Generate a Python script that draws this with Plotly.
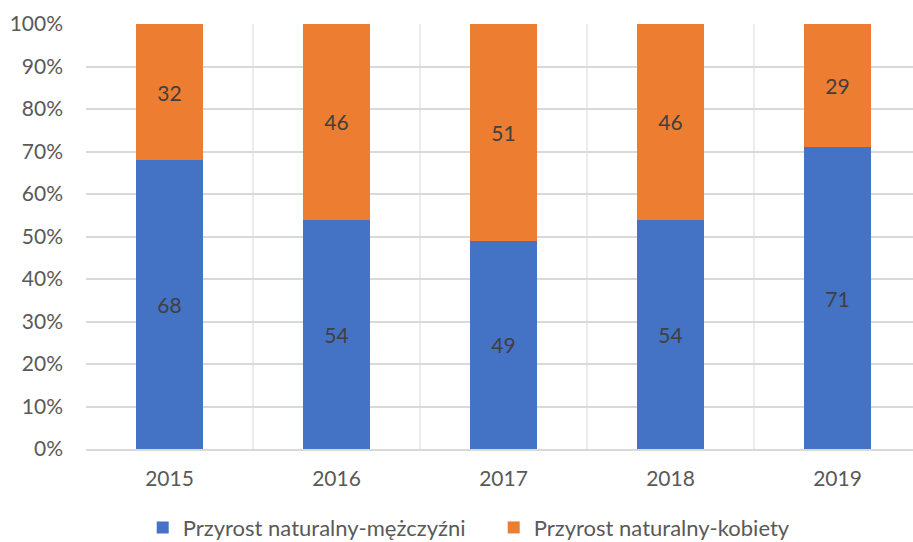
import plotly.graph_objects as go

years = ["2015", "2016", "2017", "2018", "2019"]
men = [68, 54, 49, 54, 71]
women = [32, 46, 51, 46, 29]
series_names = ["Przyrost naturalny-mężczyźni", "Przyrost naturalny-kobiety"]
y_ticks = [0, 10, 20, 30, 40, 50, 60, 70, 80, 90, 100]

FONT = "Lato, 'Open Sans', sans-serif"

fig = go.Figure()
fig.add_trace(go.Bar(
    x=years, y=men, name=series_names[0],
    marker=dict(color="#4472C4", line=dict(width=0)),
    text=[str(v) for v in men], textposition="inside", insidetextanchor="middle",
    textfont=dict(color="#404040", size=21, family=FONT),
    hoverinfo="none"
))
fig.add_trace(go.Bar(
    x=years, y=women, name=series_names[1],
    marker=dict(color="#ED7D31", line=dict(width=0)),
    text=[str(v) for v in women], textposition="inside", insidetextanchor="middle",
    textfont=dict(color="#404040", size=21, family=FONT),
    hoverinfo="none"
))

fig.update_layout(
    barmode="stack",
    bargap=0.6,
    width=913, height=542,
    margin=dict(l=86, r=0, t=24, b=93, autoexpand=False),
    paper_bgcolor="white", plot_bgcolor="white",
    font=dict(family=FONT, color="#595959", size=21),
    legend=dict(orientation="h", x=0.493, xanchor="center", y=-0.185, yanchor="middle",
                font=dict(size=22, color="#595959"), traceorder="normal",
                entrywidth=306),
    showlegend=True,
)
fig.update_xaxes(
    type="category", tickson="boundaries", showgrid=True, gridcolor="#ececec", gridwidth=1.5,
    ticks="", showline=True, linecolor="#d9d9d9", linewidth=1.5,
    range=[-0.5, 4.452], tickfont=dict(size=21, color="#595959"),
    ticklabelstandoff=10, fixedrange=True, automargin=False
)
fig.update_yaxes(
    range=[0, 100], tickvals=y_ticks, ticktext=[f"{v}%" for v in y_ticks],
    showgrid=True, gridcolor="#d9d9d9", gridwidth=1.5, zeroline=False,
    ticks="", showline=False, tickfont=dict(size=21, color="#595959"),
    ticklabelstandoff=22, fixedrange=True, automargin=False
)

fig.write_html("out.html", config={"displayModeBar": False},
               post_script="document.body.style.margin='0';document.body.style.overflow='hidden';")
